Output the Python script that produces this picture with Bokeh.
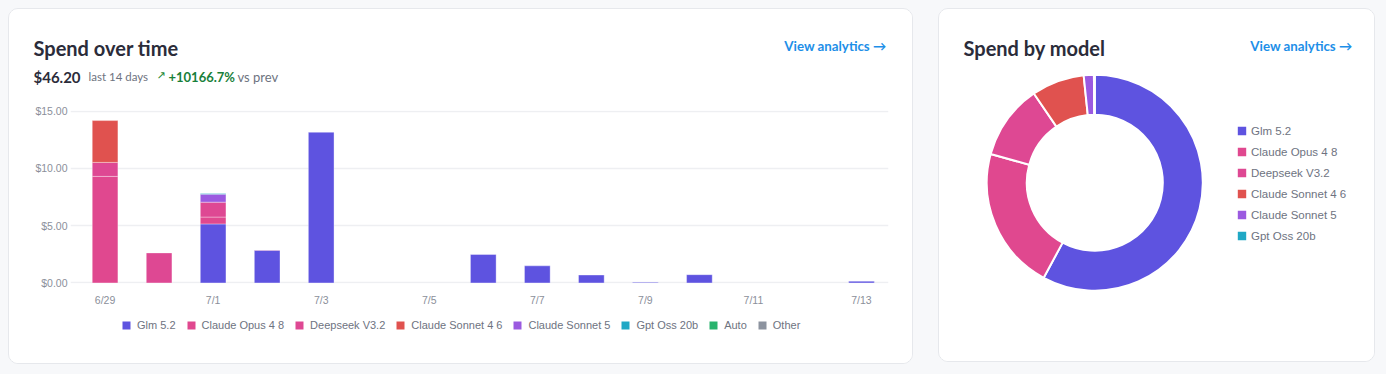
import numpy as np
from bokeh.plotting import figure
from bokeh.models import (Range1d, FixedTicker, NumeralTickFormatter, Legend,
                          LegendItem, ColumnDataSource)
from bokeh.layouts import row, column
from bokeh.core.properties import value
from bokeh.embed import file_html
from bokeh.resources import INLINE

# ---------------- data ----------------
days = ["6/29", "6/30", "7/1", "7/2", "7/3", "7/4", "7/5", "7/6",
        "7/7", "7/8", "7/9", "7/10", "7/11", "7/12", "7/13"]
models = ["Glm 5.2", "Claude Opus 4 8", "Deepseek V3.2", "Claude Sonnet 4 6",
          "Claude Sonnet 5", "Gpt Oss 20b", "Auto", "Other"]
colors = ["#5e53e0", "#e0488f", "#de4893", "#e0524f",
          "#9b5ae0", "#20a8c5", "#28b36d", "#8c939f"]
glm      = [0, 0, 5.15, 2.85, 13.15, 0, 0, 2.48, 1.49, 0.69, 0.05, 0.72, 0, 0, 0.15]
opus     = [9.30, 0, 0.60, 0, 0, 0, 0, 0, 0, 0, 0, 0, 0, 0, 0]
deepseek = [1.22, 2.62, 1.30, 0.03, 0, 0, 0, 0, 0, 0, 0, 0, 0, 0, 0]
sonnet46 = [3.65, 0, 0, 0, 0, 0, 0, 0, 0, 0, 0, 0, 0, 0, 0]
sonnet5  = [0, 0, 0.70, 0, 0, 0, 0, 0, 0, 0, 0, 0, 0, 0, 0]
gptoss   = [0, 0, 0.06, 0, 0, 0, 0, 0, 0, 0, 0, 0, 0, 0, 0]
auto     = [0] * 15
other    = [0] * 15
series = [glm, opus, deepseek, sonnet46, sonnet5, gptoss, auto, other]

y_ticks = [0, 5, 10, 15]
title_left = "Spend over time"
title_right = "Spend by model"
link_text = "View analytics \u2192"
total_text = "$46.20"
period_text = "last 14 days"
change_text = "+10166.7%"
vs_text = "vs prev"

HEAD_FONT = "Lato"
CHART_FONT = "Liberation Sans"
BG = "#f7f8fa"
CARD = {"border": "1px solid #e6e8ec", "border-radius": "10px",
        "overflow": "hidden", "background-color": "#ffffff"}
LEG_STYLE = dict(padding=0, margin=0, border_line_color=None,
                 background_fill_alpha=0, label_width=0,
                 label_text_font=CHART_FONT, label_text_font_size="11px",
                 label_text_color="#6e7381")


def blank_fig(w, h, yrange):
    p = figure(width=w, height=h, x_range=Range1d(0, w), y_range=yrange,
               output_backend="svg", toolbar_location=None, min_border=0,
               x_axis_type=None, y_axis_type=None, outline_line_color=None,
               background_fill_color="white", border_fill_color="white")
    p.grid.visible = False
    p.frame_align = False
    return p


def txt(p, x, y, s, size, color, bold=False, align="left", font=HEAD_FONT):
    p.text(x=[x], y=[y], text=[s], text_font=value(font), text_font_size=size,
           text_font_style="bold" if bold else "normal", text_color=color,
           text_align=align, text_baseline="middle")


# ---------------- left card: header ----------------
LW = 903
head = blank_fig(LW, 90, Range1d(90, 0))
txt(head, 24, 38, title_left, "20px", "#2b2c3a", bold=True)
txt(head, 877, 36, link_text, "13.3px", "#1d8fe8", bold=True, align="right")
txt(head, 24, 67, total_text, "15px", "#2b2c3a", bold=True)
txt(head, 79, 67, period_text, "11.5px", "#6e7380")
txt(head, 147, 66, "\u2197", "11px", "#1f8a3a", font="DejaVu Sans")
txt(head, 159, 67, change_text, "13px", "#18803a", bold=True)
txt(head, 228, 67, vs_text, "13px", "#6e7380")

# ---------------- left card: stacked bars ----------------
n = len(days)
xs = np.arange(n)
pc = figure(width=LW, height=212, x_range=Range1d(-0.64, 14.5),
            y_range=Range1d(-0.05, 15.05), output_backend="svg",
            toolbar_location=None, min_border_left=61, min_border_right=24,
            min_border_top=11, min_border_bottom=28, outline_line_color=None,
            background_fill_color="white", border_fill_color="white")
pc.frame_align = False

bottom = np.zeros(n)
for name, col, vals in zip(models, colors, series):
    v = np.array(vals, dtype=float)
    top = bottom + v
    m = v > 0
    src = ColumnDataSource(dict(x=xs[m], bottom=bottom[m], top=top[m]))
    pc.vbar(x="x", bottom="bottom", top="top", width=0.475, source=src,
            fill_color=col, line_color="white", line_alpha=0.35, line_width=1)
    bottom = top

pc.xaxis.ticker = FixedTicker(ticks=list(range(0, n, 2)))
pc.xaxis.major_label_overrides = {i: days[i] for i in range(0, n, 2)}
pc.yaxis.ticker = FixedTicker(ticks=y_ticks)
pc.yaxis.formatter = NumeralTickFormatter(format="$0.00")
for ax in (pc.xaxis[0], pc.yaxis[0]):
    ax.axis_line_color = None
    ax.major_tick_line_color = None
    ax.minor_tick_line_color = None
    ax.major_tick_out = 0
    ax.major_tick_in = 0
    ax.minor_tick_out = 0
    ax.minor_tick_in = 0
    ax.major_label_text_font = CHART_FONT
    ax.major_label_text_font_size = "10.5px"
    ax.major_label_text_color = "#8b8f9a"
pc.xaxis.major_label_standoff = 10
pc.yaxis.major_label_standoff = 3
pc.xgrid.visible = False
pc.ygrid.ticker = FixedTicker(ticks=y_ticks)
pc.ygrid.grid_line_color = "#eeeff2"
pc.ygrid.grid_line_width = 1.5

# ---------------- left card: legend strip ----------------
foot = blank_fig(LW, 52, Range1d(0, 52))
items = []
for name, col in zip(models, colors):
    proxy = ColumnDataSource(dict(x=np.array([np.nan]), bottom=np.array([0.0]),
                                  top=np.array([0.0])))
    r = foot.vbar(x="x", bottom="bottom", top="top", width=1, source=proxy,
                  fill_color=col, line_color=None)
    items.append(LegendItem(label=name, renderers=[r]))
leg = Legend(items=items, orientation="horizontal", location=(112, 32),
             spacing=10, label_height=12, glyph_width=10, glyph_height=10,
             label_standoff=6, **LEG_STYLE)
foot.add_layout(leg, "center")

left_card = column(head, pc, foot, spacing=0, styles=CARD, margin=(8, 0, 0, 8))

# ---------------- right card: donut ----------------
RW, RH = 437, 354
pr = blank_fig(RW, RH, Range1d(0, RH))
txt(pr, 24, 316, title_right, "20px", "#2b2c3a", bold=True)
txt(pr, 413, 318, link_text, "13.3px", "#1d8fe8", bold=True, align="right")

totals = [float(np.sum(s)) for s in series]
idx = [i for i, t in enumerate(totals) if t > 0]
vals = np.array([totals[i] for i in idx])
cum = np.cumsum(vals) / vals.sum()
cum0 = np.concatenate([[0.0], cum[:-1]])
dsrc = ColumnDataSource(dict(
    x=[155.3] * len(idx), y=[180.8] * len(idx),
    start=np.pi / 2 - cum * 2 * np.pi, end=np.pi / 2 - cum0 * 2 * np.pi,
    color=[colors[i] for i in idx], name=[models[i] for i in idx]))
w = pr.annular_wedge(x="x", y="y", inner_radius=68, outer_radius=108,
                     start_angle="start", end_angle="end", fill_color="color",
                     line_color="white", line_width=2, source=dsrc)
dleg = Legend(items=[LegendItem(label=models[i], renderers=[w], index=k)
                     for k, i in enumerate(idx)],
              location=(296, 120), spacing=6, label_height=15,
              glyph_width=13, glyph_height=13, label_standoff=3, **LEG_STYLE)
dleg.label_text_font_size = "11.5px"
pr.add_layout(dleg, "center")
pr.styles = CARD
pr.margin = (8, 0, 0, 25)

root = row(left_card, pr, spacing=0, width=1386, height=374,
           styles={"background-color": BG})

open("out.html", "w").write(file_html(root, INLINE))
